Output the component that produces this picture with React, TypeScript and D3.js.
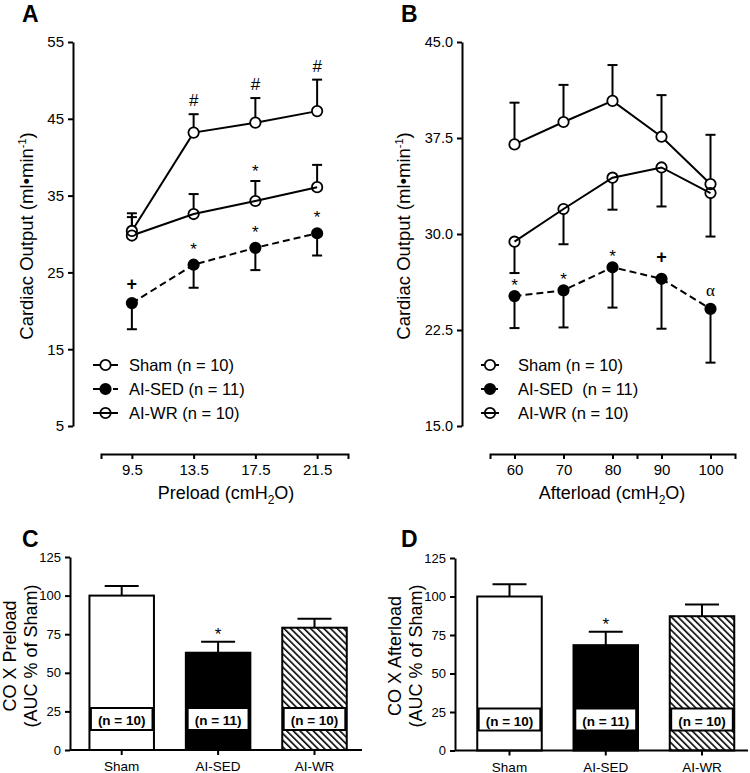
import React, { useEffect, useRef } from "react";
import * as d3 from "d3";

// ---------- DATA ----------
const preloadLevels = [9.5, 13.5, 17.5, 21.5];
const shamPreload = [30.4, 43.2, 44.5, 46.0];
const shamPreloadSE = [2.3, 2.4, 3.2, 4.1];
const sedPreload = [21.0, 26.0, 28.2, 30.1];
const sedPreloadSE = [3.4, 3.0, 2.9, 2.9];
const wrPreload = [29.8, 32.6, 34.3, 36.1];
const wrPreloadSE = [2.4, 2.6, 2.6, 2.9];

const afterloadLevels = [60, 70, 80, 90, 100];
const shamAfterload = [37.0, 38.75, 40.4, 37.6, 33.9];
const shamAfterloadSE = [3.26, 2.9, 2.8, 3.25, 3.85];
const sedAfterload = [25.15, 25.6, 27.4, 26.5, 24.15];
const sedAfterloadSE = [2.5, 2.9, 3.15, 3.9, 4.2];
const wrAfterload = [29.4, 31.95, 34.4, 35.2, 33.2];
const wrAfterloadSE = [2.45, 2.75, 2.5, 3.05, 3.4];

const preloadYTicks = [5, 15, 25, 35, 45, 55];
const preloadXTicks = [9.5, 13.5, 17.5, 21.5];
const preloadXDomain = [7.5, 23.5];
const afterloadYTicks = [15, 22.5, 30, 37.5, 45];
const afterloadXTicks = [60, 70, 80, 90, 100];
const afterloadXMinor = [85];
const afterloadXDomain = [55, 105];

const legendA = ["Sham (n = 10)", "AI-SED (n = 11)", "AI-WR (n = 10)"];
const legendB = ["Sham (n = 10)", "AI-SED  (n = 11)", "AI-WR (n = 10)"];

const preloadMarks = [
  { series: "sham", x: 13.5, label: "#" },
  { series: "sham", x: 17.5, label: "#" },
  { series: "sham", x: 21.5, label: "#" },
  { series: "wr", x: 17.5, label: "*" },
  { series: "sed", x: 9.5, label: "+" },
  { series: "sed", x: 13.5, label: "*" },
  { series: "sed", x: 17.5, label: "*" },
  { series: "sed", x: 21.5, label: "*" },
];
const afterloadMarks = [
  { series: "sed", x: 60, label: "*" },
  { series: "sed", x: 70, label: "*" },
  { series: "sed", x: 80, label: "*" },
  { series: "sed", x: 90, label: "+" },
  { series: "sed", x: 100, label: "α" },
];

const barGroups = ["Sham", "AI-SED", "AI-WR"];
const barN = ["(n = 10)", "(n = 11)", "(n = 10)"];
const preloadAUC = [100, 63.0, 79.2];
const preloadAUCSE = [6.2, 7.1, 5.8];
const afterloadAUC = [100, 68.4, 87.2];
const afterloadAUCSE = [8.0, 8.7, 7.6];
const barYTicks = [0, 25, 50, 75, 100, 125];
const barStarGroup = "AI-SED";

// ---------- DRAWING ----------
const FONT = "'Liberation Sans', Arial, Helvetica, sans-serif";

function styleAxis(sel: any, fontSize: number) {
  sel.select(".domain").attr("stroke", "#000").attr("stroke-width", 2);
  sel.selectAll(".tick line").attr("stroke", "#000").attr("stroke-width", 2);
  sel.selectAll(".tick text").attr("fill", "#000").attr("font-size", fontSize).attr("font-family", FONT);
}

function drawLinePanel(svg: any, cfg: any) {
  const g = svg.append("g");
  const x = d3.scaleLinear().domain(cfg.xDomain).range(cfg.xRange);
  const y = d3.scaleLinear().domain(cfg.yDomain).range(cfg.yRange);

  const yAxis = d3.axisLeft(y).tickValues(cfg.yTicks).tickFormat(cfg.yFormat)
    .tickSize(5).tickSizeOuter(0).tickPadding(4);
  g.append("g").attr("transform", `translate(${cfg.yAxisX},0)`).call(yAxis)
    .call((s: any) => styleAxis(s, cfg.yFont));

  const allX = [...cfg.xTicks, ...cfg.xMinor];
  const xAxis = d3.axisBottom(x).tickValues(allX)
    .tickFormat((d: any) => (cfg.xTicks.includes(d) ? String(d) : ""))
    .tickSize(5).tickSizeOuter(5).tickPadding(5);
  g.append("g").attr("transform", `translate(0,${cfg.xAxisY})`).call(xAxis)
    .call((s: any) => styleAxis(s, cfg.xFont));

  // x title
  const xt = g.append("text").attr("x", cfg.xTitleX).attr("y", cfg.xTitleY)
    .attr("text-anchor", "middle").attr("font-family", FONT).attr("font-size", 18);
  xt.append("tspan").text(cfg.xTitle + " (cmH");
  xt.append("tspan").attr("font-size", 12).attr("dy", 5).text("2");
  xt.append("tspan").attr("dy", -5).text("O)");

  // y title
  const yt = g.append("text").attr("transform", `translate(${cfg.yTitleX},${cfg.yTitleY}) rotate(-90)`)
    .attr("text-anchor", "middle").attr("dy", "0.35em").attr("font-family", FONT).attr("font-size", 18.5);
  yt.append("tspan").text("Cardiac Output (ml•min");
  yt.append("tspan").attr("font-size", 11).attr("dy", -7).text("-1");
  yt.append("tspan").attr("dy", 7).text(")");

  // panel letter
  g.append("text").attr("x", cfg.letterX).attr("y", 22).attr("font-family", FONT)
    .attr("font-weight", "bold").attr("font-size", 23).text(cfg.letter);

  const r = 5.2;
  const series = cfg.series;
  // lines
  series.forEach((s: any) => {
    const line = d3.line<number>().x((_, i) => x(cfg.levels[i])).y((v) => y(v));
    g.append("path").attr("d", line(s.values)).attr("fill", "none").attr("stroke", "#000")
      .attr("stroke-width", 2).attr("stroke-dasharray", s.dashed ? "7,4" : null);
  });
  // error bars
  series.forEach((s: any) => {
    s.values.forEach((v: number, i: number) => {
      const cx = x(cfg.levels[i]);
      const cy = y(v);
      const end = y(v + s.dir * s.se[i]);
      const start = cy - s.dir * r;
      g.append("line").attr("x1", cx).attr("x2", cx).attr("y1", start).attr("y2", end)
        .attr("stroke", "#000").attr("stroke-width", 2);
      g.append("line").attr("x1", cx - 5).attr("x2", cx + 5).attr("y1", end).attr("y2", end)
        .attr("stroke", "#000").attr("stroke-width", 2);
    });
  });
  // markers
  series.forEach((s: any) => {
    s.values.forEach((v: number, i: number) => {
      g.append("circle").attr("cx", x(cfg.levels[i])).attr("cy", y(v)).attr("r", r)
        .attr("fill", s.fill).attr("stroke", "#000").attr("stroke-width", 1.8);
    });
  });
  // annotations
  const byKey: any = {};
  series.forEach((s: any) => (byKey[s.key] = s));
  cfg.marks.forEach((m: any) => {
    const s = byKey[m.series];
    const i = cfg.levels.indexOf(m.x);
    const v = s.values[i];
    let base: number;
    if (s.dir > 0) base = y(v + s.se[i]) - (m.label === "#" ? 8 : 4);
    else base = y(v) - cfg.markOffset(m.label);
    const t = g.append("text").attr("x", x(m.x)).attr("y", base).attr("text-anchor", "middle")
      .attr("font-size", 17).attr("font-family", m.label === "α" ? "'Liberation Serif', serif" : FONT)
      .text(m.label);
    if (m.label === "+") t.attr("font-weight", "bold").attr("font-size", 18);
  });

  // legend
  cfg.legend.forEach((lab: string, i: number) => {
    const s = series[i];
    const ly = cfg.legendY0 + i * cfg.legendDY;
    g.append("line").attr("x1", cfg.legendX0).attr("x2", cfg.legendX1).attr("y1", ly).attr("y2", ly)
      .attr("stroke", "#000").attr("stroke-width", 2).attr("stroke-dasharray", s.dashed ? "7,3" : null);
    g.append("circle").attr("cx", (cfg.legendX0 + cfg.legendX1) / 2).attr("cy", ly).attr("r", r)
      .attr("fill", s.fill).attr("stroke", "#000").attr("stroke-width", 1.8);
    g.append("text").attr("x", cfg.legendTextX).attr("y", ly).attr("dy", "0.35em")
      .attr("font-family", FONT).attr("font-size", 16.5).style("white-space", "pre").text(lab);
  });
}

function drawBarPanel(svg: any, cfg: any) {
  const g = svg.append("g");
  const x = d3.scalePoint().domain(barGroups).range(cfg.centerRange);
  const y = d3.scaleLinear().domain([0, 125]).range(cfg.yRange);
  const bw = 64.5;
  const fills = ["#fff", "#000", "url(#hatch)"];

  barGroups.forEach((name, i) => {
    const cx = x(name) as number;
    const v = cfg.values[i];
    const top = y(v);
    const errTop = y(v + cfg.se[i]);
    g.append("line").attr("x1", cx).attr("x2", cx).attr("y1", top).attr("y2", errTop)
      .attr("stroke", "#000").attr("stroke-width", 2);
    g.append("line").attr("x1", cx - 17).attr("x2", cx + 17).attr("y1", errTop).attr("y2", errTop)
      .attr("stroke", "#000").attr("stroke-width", 2);
    g.append("rect").attr("x", cx - bw / 2).attr("y", top).attr("width", bw).attr("height", y(0) - top)
      .attr("fill", fills[i]).attr("stroke", "#000").attr("stroke-width", 2);
    // n label box
    const txt = g.append("text").attr("x", cx).attr("y", y(0) - 25).attr("text-anchor", "middle")
      .attr("font-family", FONT).attr("font-weight", "bold").attr("font-size", 13.5).text(barN[i]);
    const tw = (txt.node() as SVGTextElement).getComputedTextLength();
    g.insert("rect", () => txt.node()).attr("x", cx - tw / 2 - 7).attr("y", y(0) - 42)
      .attr("width", tw + 14).attr("height", 22).attr("fill", "#fff")
      .attr("stroke", "#000").attr("stroke-width", 2);
    if (name === barStarGroup) {
      g.append("text").attr("x", cx).attr("y", errTop - 2).attr("text-anchor", "middle")
        .attr("font-family", FONT).attr("font-size", 17).text("*");
    }
  });

  const yAxis = d3.axisLeft(y).tickValues(barYTicks).tickSize(5).tickSizeOuter(0).tickPadding(4);
  g.append("g").attr("transform", `translate(${cfg.yAxisX},0)`).call(yAxis)
    .call((s: any) => styleAxis(s, 13));
  g.append("line").attr("x1", cfg.yAxisX).attr("x2", cfg.xAxisEnd).attr("y1", y(0)).attr("y2", y(0))
    .attr("stroke", "#000").attr("stroke-width", 2);
  barGroups.forEach((name) => {
    const cx = x(name) as number;
    g.append("line").attr("x1", cx).attr("x2", cx).attr("y1", y(0)).attr("y2", y(0) + 5)
      .attr("stroke", "#000").attr("stroke-width", 2);
    g.append("text").attr("x", cx).attr("y", y(0) + 21).attr("text-anchor", "middle")
      .attr("font-family", FONT).attr("font-size", 13.5).text(name);
  });

  const yt = g.append("text").attr("transform", `translate(0,${cfg.yTitleY}) rotate(-90)`)
    .attr("text-anchor", "middle").attr("font-family", FONT).attr("font-size", 18);
  yt.append("tspan").attr("x", 0).attr("y", cfg.yTitleX1).attr("dy", "0.35em").text(cfg.title1);
  yt.append("tspan").attr("x", 0).attr("y", cfg.yTitleX2).attr("dy", "0.35em").text("(AUC % of Sham)");

  g.append("text").attr("x", cfg.letterX).attr("y", 547).attr("font-family", FONT)
    .attr("font-weight", "bold").attr("font-size", 23).text(cfg.letter);
}

export default function App() {
  const ref = useRef<SVGSVGElement>(null);
  useEffect(() => {
    const svg = d3.select(ref.current);
    svg.selectAll("*").remove();
    const defs = svg.append("defs");
    const pat = defs.append("pattern").attr("id", "hatch").attr("patternUnits", "userSpaceOnUse")
      .attr("width", 4.7).attr("height", 4.7).attr("patternTransform", "rotate(-45)");
    pat.append("rect").attr("width", 4.7).attr("height", 4.7).attr("fill", "#fff");
    pat.append("line").attr("x1", 0).attr("x2", 0).attr("y1", 0).attr("y2", 4.7)
      .attr("stroke", "#000").attr("stroke-width", 3.2);

    drawLinePanel(svg, {
      letter: "A", letterX: 22,
      xDomain: preloadXDomain, xRange: [101, 348], yDomain: [5, 55], yRange: [426, 42],
      yAxisX: 73, xAxisY: 454, yTicks: preloadYTicks, yFormat: d3.format("d"), yFont: 15,
      xTicks: preloadXTicks, xMinor: [], xFont: 15,
      xTitle: "Preload", xTitleX: 226, xTitleY: 499,
      yTitleX: 27, yTitleY: 236,
      levels: preloadLevels,
      series: [
        { key: "sham", values: shamPreload, se: shamPreloadSE, dir: 1, fill: "#fff", dashed: false },
        { key: "sed", values: sedPreload, se: sedPreloadSE, dir: -1, fill: "#000", dashed: true },
        { key: "wr", values: wrPreload, se: wrPreloadSE, dir: 1, fill: "none", dashed: false },
      ],
      marks: preloadMarks,
      markOffset: (l: string) => (l === "+" ? 13 : 10),
      legend: legendA, legendX0: 93, legendX1: 118, legendTextX: 129, legendY0: 365, legendDY: 24,
    });

    drawLinePanel(svg, {
      letter: "B", letterX: 401,
      xDomain: afterloadXDomain, xRange: [490, 735], yDomain: [15, 45], yRange: [426, 42],
      yAxisX: 462, xAxisY: 454, yTicks: afterloadYTicks, yFormat: d3.format(".1f"), yFont: 14.5,
      xTicks: afterloadXTicks, xMinor: afterloadXMinor, xFont: 15,
      xTitle: "Afterload", xTitleX: 612, xTitleY: 499,
      yTitleX: 404, yTitleY: 236,
      levels: afterloadLevels,
      series: [
        { key: "sham", values: shamAfterload, se: shamAfterloadSE, dir: 1, fill: "#fff", dashed: false },
        { key: "sed", values: sedAfterload, se: sedAfterloadSE, dir: -1, fill: "#000", dashed: true },
        { key: "wr", values: wrAfterload, se: wrAfterloadSE, dir: -1, fill: "none", dashed: false },
      ],
      marks: afterloadMarks,
      markOffset: (l: string) => (l === "+" ? 16 : l === "α" ? 13 : 5),
      legend: legendB, legendX0: 481, legendX1: 499, legendTextX: 518, legendY0: 365, legendDY: 24,
    });

    drawBarPanel(svg, {
      letter: "C", letterX: 22, centerRange: [121.7, 314.5], yRange: [750, 557],
      yAxisX: 70, xAxisEnd: 362, values: preloadAUC, se: preloadAUCSE,
      title1: "CO X Preload", yTitleX1: 10, yTitleX2: 31, yTitleY: 656,
    });
    drawBarPanel(svg, {
      letter: "D", letterX: 401, centerRange: [509.5, 702], yRange: [750.5, 558],
      yAxisX: 455, xAxisEnd: 748, values: afterloadAUC, se: afterloadAUCSE,
      title1: "CO X Afterload", yTitleX1: 395, yTitleX2: 416, yTitleY: 656,
    });
  }, []);
  return (
    <svg ref={ref} width={750} height={773}
      style={{ position: "absolute", left: 0, top: 0, background: "#fff" }} />
  );
}
